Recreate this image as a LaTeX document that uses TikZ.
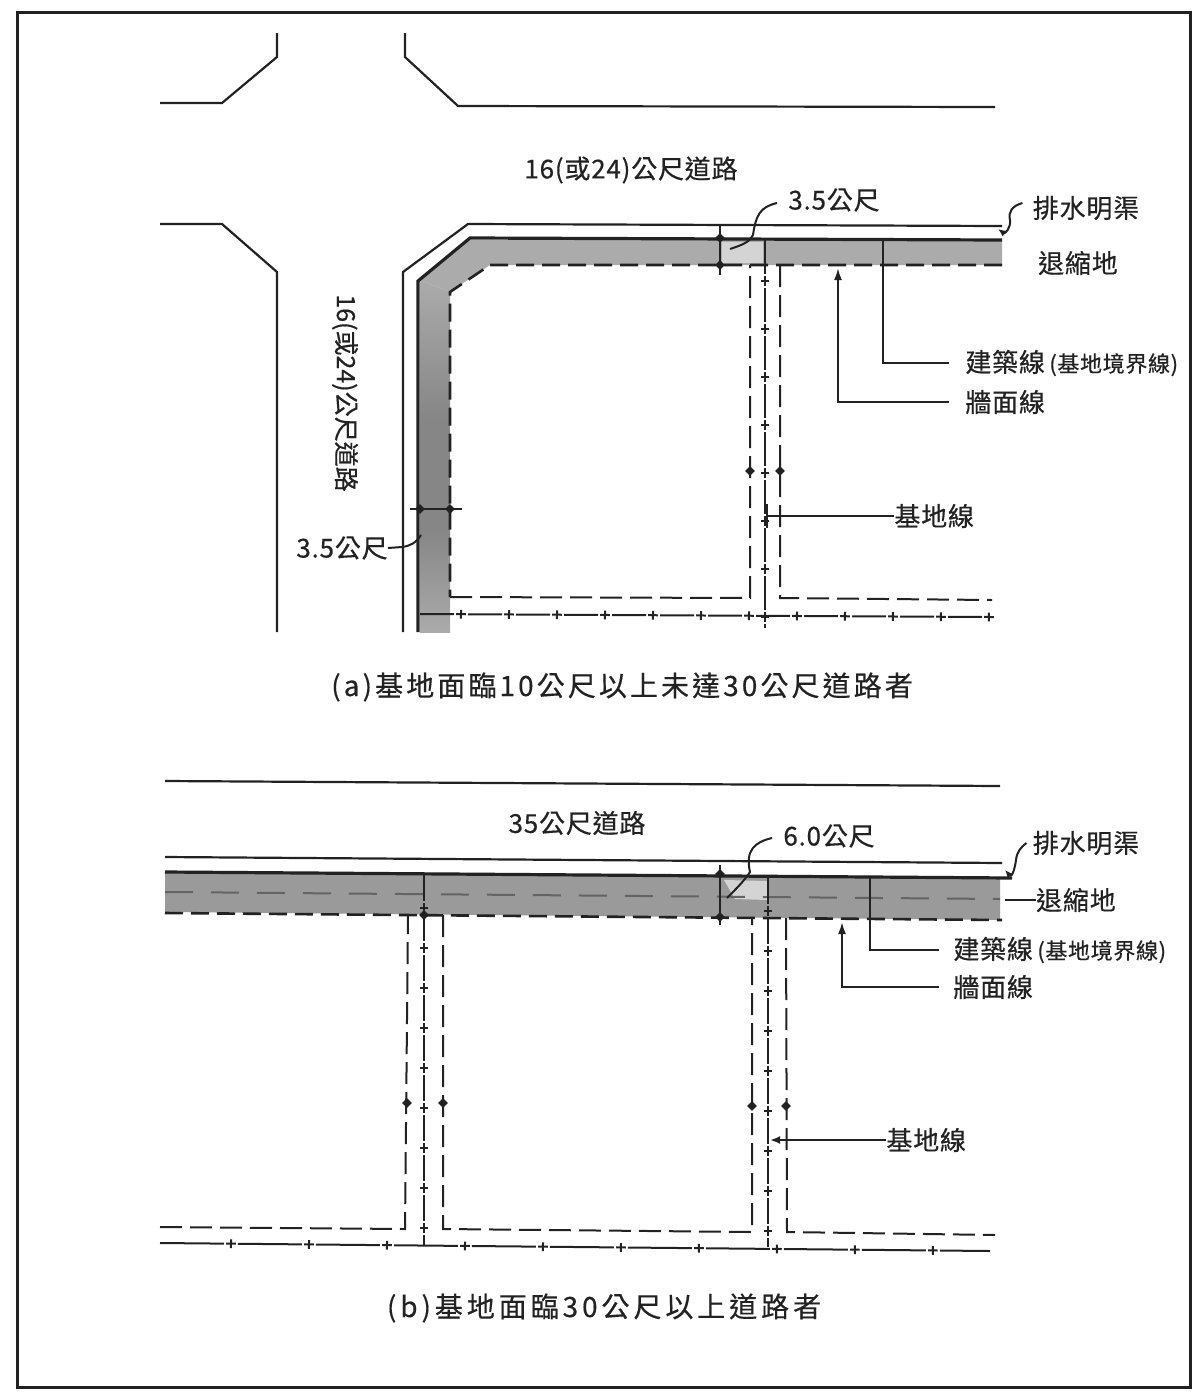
\documentclass[tikz,border=0pt]{standalone}
\usepackage{fontspec}
\setmainfont{Noto Sans CJK TC}
\newfontfamily\lblfont[LetterSpace=3,FakeBold=0.5]{Noto Sans CJK TC}
\newfontfamily\plainfont[FakeBold=0.5]{Noto Sans CJK TC}
\newfontfamily\capafont[LetterSpace=11,FakeBold=0.4]{Noto Sans CJK TC}
\newfontfamily\capbfont[LetterSpace=14,FakeBold=0.4]{Noto Sans CJK TC}
\usetikzlibrary{arrows.meta,decorations.markings}
\definecolor{ink}{HTML}{222222}
\definecolor{bandlight}{HTML}{ABABAB}
\definecolor{banddark}{HTML}{868686}
\definecolor{bandb}{HTML}{9A9A9A}
\definecolor{speckle}{HTML}{D4D4D4}
\tikzset{
  solidline/.style={draw=ink,line width=1.1pt,line join=miter},
  heavyline/.style={draw=ink,line width=1.6pt,line join=miter},
  lotline/.style={draw=ink,line width=1pt,dash pattern=on 11pt off 4pt},
  walldash/.style={draw=ink,line width=1.3pt,dash pattern=on 9pt off 4pt},
  bandline/.style={draw=ink!70,line width=1pt,dash pattern=on 14pt off 9pt},
  cline/.style={draw=ink,line width=1pt,dash pattern=on #1 off 7pt,
    postaction={decorate,decoration={markings,
      mark=between positions 3.5pt+#1 and 1 step 7pt+#1 with {
        \fill[ink] (-2.4pt,-.5pt) rectangle (2.4pt,.5pt);
        \fill[ink] (-.5pt,-2.2pt) rectangle (.5pt,2.2pt);}}}},
  lead/.style={draw=ink,line width=1pt},
  lbl/.style={text=ink,font=\lblfont\fontsize{13}{13}\selectfont,inner sep=0pt},
  plainlbl/.style={text=ink,font=\plainfont\fontsize{12.5}{13}\selectfont,inner sep=0pt},
  capatext/.style={text=ink,font=\capafont\fontsize{14}{14}\selectfont,inner sep=0pt},
  capbtext/.style={text=ink,font=\capbfont\fontsize{14}{14}\selectfont,inner sep=0pt},
  dotmark/.style={fill=ink,diamond,aspect=1,inner sep=0pt,minimum size=5pt},
}
\usetikzlibrary{shapes.geometric}
\newcommand{\smallpart}[1]{{\fontsize{11}{11}\selectfont #1}}
\begin{document}
\begin{tikzpicture}[x=.5pt,y=-.5pt]
\useasboundingbox (0,0) rectangle (1192,1393);
\draw[draw=ink,line width=1.5pt] (17,12) rectangle (1190,1387);

% ---------- panel (a): roads
\draw[solidline] (160,103) -- (222,103) -- (277,57) -- (277,33);
\draw[solidline] (405,33) -- (405,57) -- (458,106) -- (995,107);
\draw[solidline] (160,224) -- (222,224) -- (277,272) -- (277,632);
\fill[bandlight] (470,240) -- (1002,240) -- (1002,265) -- (490,265) -- (450,292) -- (420,280) -- cycle;
\shade[top color=bandlight,bottom color=banddark] (420,280) -- (450,292) -- (450,420) -- (420,420) -- cycle;
\fill[banddark] (420,420) rectangle (450,530);
\shade[top color=banddark,bottom color=bandlight] (420,530) rectangle (450,632);
\fill[speckle] (722,242) rectangle (763,263);
\draw[solidline] (403,632) -- (403,272) -- (468,224) -- (1002,226);
\draw[heavyline] (418,632) -- (418,281) -- (470,238) -- (1002,240);
\draw[walldash] (1002,265) -- (490,265) -- (450,292) -- (450,597);
\draw[lotline] (450,597) -- (750,598) -- (750,265);
\draw[lotline] (780,265) -- (780,598) -- (992,600);
\draw[cline=17pt] (765,240) -- (765,628);
\draw[cline=17pt] (420,614) -- (990,617);

% dimension ticks (a)
\draw[lead] (720,226) -- (720,275);
\node[dotmark] (ta1) at (720,238) {};
\node[dotmark] (ta2) at (720,265) {};
\draw[lead] (410,509) -- (462,509);
\node[dotmark] (ta3) at (420,509) {};
\node[dotmark] (ta4) at (450,509) {};
\node[dotmark] (ta5) at (750,471) {};
\node[dotmark] (ta6) at (780,471) {};

% labels (a)
\node[lbl] (r1) at (631,170) {16(或24)公尺道路};
\node[plainlbl,rotate=-90] (r2) at (345,393) {16(或24)公尺道路};
\node[lbl] (d1) at (834,200) {3.5公尺};
\node[lbl] (d2) at (342,548) {3.5公尺};
\node[lbl] (dr1) at (1086,208) {排水明渠};
\node[lbl] (bk1) at (1078,263) {退縮地};
\node[lbl,anchor=west] (bl1) at (965,363) {建築線\,\smallpart{(基地境界線)}};
\node[lbl,anchor=west] (wl1) at (965,402) {牆面線};
\node[lbl,anchor=west] (sl1) at (894,516) {基地線};
\node[capatext] (capa) at (622,687) {(a)基地面臨10公尺以上未達30公尺道路者};

% leaders (a)
\coordinate (d1e) at (730,249);
\coordinate (d2e) at (421,535);
\coordinate (dr1e) at (998,229);
\coordinate (bl1e) at (883,240);
\coordinate (wl1e) at (838,268);
\coordinate (sl1e) at (767,516);
\draw[lead] (d1.west) ++(-11,3) .. controls (760,207) and (756,215) .. (753,235) .. controls (750,242) and (742,245) .. (d1e);
\draw[lead] (d2.east) -- (402,547) .. controls (410,546) and (416,543) .. (d2e);
\draw[lead,-{Latex[length=4pt,width=3.5pt]}] (dr1.west) ++(-10,-5) .. controls (1012,206) and (1008,212) .. (1010,220) .. controls (1011,228) and (1005,234) .. (dr1e);
\draw[lead] ([xshift=-8pt]bl1.west) -| (bl1e);
\draw[lead,-{Latex[length=6pt,width=4pt]}] ([xshift=-8pt]wl1.west) -| (wl1e);
\draw[lead] (sl1.west) -- (sl1e);
\draw[lead] (767,504) -- (767,528);

% ---------- panel (b)
\fill[bandb] (165,872) -- (1000,878) -- (1000,920) -- (165,912) -- cycle;
\fill[speckle] (724,880) -- (768,881) -- (768,900) -- (735,899) -- cycle;
\draw[solidline] (165,781) -- (1000,786);
\draw[solidline] (165,857) -- (1002,863);
\draw[heavyline] (165,872) -- (1012,878);
\draw[bandline] (165,892) -- (1000,899);
\draw[walldash] (165,913) -- (1002,920);
\draw[lotline] (160,1227) -- (405,1229) -- (408,915);
\draw[lotline] (443,915) -- (443,1229) -- (752,1232) -- (752,918);
\draw[lotline] (786,918) -- (787,1232) -- (995,1235);
\draw[cline=13pt] (424,875) -- (424,1245);
\draw[cline=13pt] (768,878) -- (768,1247);
\draw[cline=32pt] (160,1243) -- (990,1251);

% dimension ticks (b)
\draw[lead] (720,865) -- (720,925);
\node[dotmark] (tb1) at (720,874) {};
\node[dotmark] (tb2) at (720,917) {};
\node[dotmark] (tb3) at (424,915) {};
\node[dotmark] (tb4) at (752,1106) {};
\node[dotmark] (tb5) at (786,1106) {};
\node[dotmark] (tb6) at (407,1103) {};
\node[dotmark] (tb7) at (443,1103) {};

% labels (b)
\node[lbl] (r3) at (577,823) {35公尺道路};
\node[lbl] (d3) at (829,836) {6.0公尺};
\node[lbl] (dr2) at (1086,843) {排水明渠};
\node[lbl] (bk2) at (1076,900) {退縮地};
\node[lbl,anchor=west] (bl2) at (953,950) {建築線\,\smallpart{(基地境界線)}};
\node[lbl,anchor=west] (wl2) at (953,987) {牆面線};
\node[lbl,anchor=west] (sl2) at (886,1140) {基地線};
\node[capbtext] (capb) at (604,1308) {(b)基地面臨30公尺以上道路者};

% leaders (b)
\coordinate (d3e) at (727,898);
\coordinate (dr2e) at (1005,870);
\coordinate (bk2e) at (1005,900);
\coordinate (bl2e) at (870,878);
\coordinate (wl2e) at (842,922);
\coordinate (sl2e) at (770,1140);
\draw[lead] (d3.west) ++(-11,2) .. controls (755,842) and (745,850) .. (750,872) .. controls (745,880) and (735,890) .. (d3e);
\draw[lead,-{Latex[length=4pt,width=3.5pt]}] (dr2.west) ++(-6,0) .. controls (1020,848) and (1017,852) .. (1016,860) .. controls (1015,868) and (1012,878) .. (dr2e);
\draw[lead] (bk2.west) -- (bk2e);
\draw[lead] ([xshift=-7pt]bl2.west) -| (bl2e);
\draw[lead,-{Latex[length=6pt,width=4pt]}] ([xshift=-7pt]wl2.west) -| (wl2e);
\draw[lead,{Latex[length=5pt,width=4pt]}-] (sl2e) -- (sl2.west);
\end{tikzpicture}
\end{document}
